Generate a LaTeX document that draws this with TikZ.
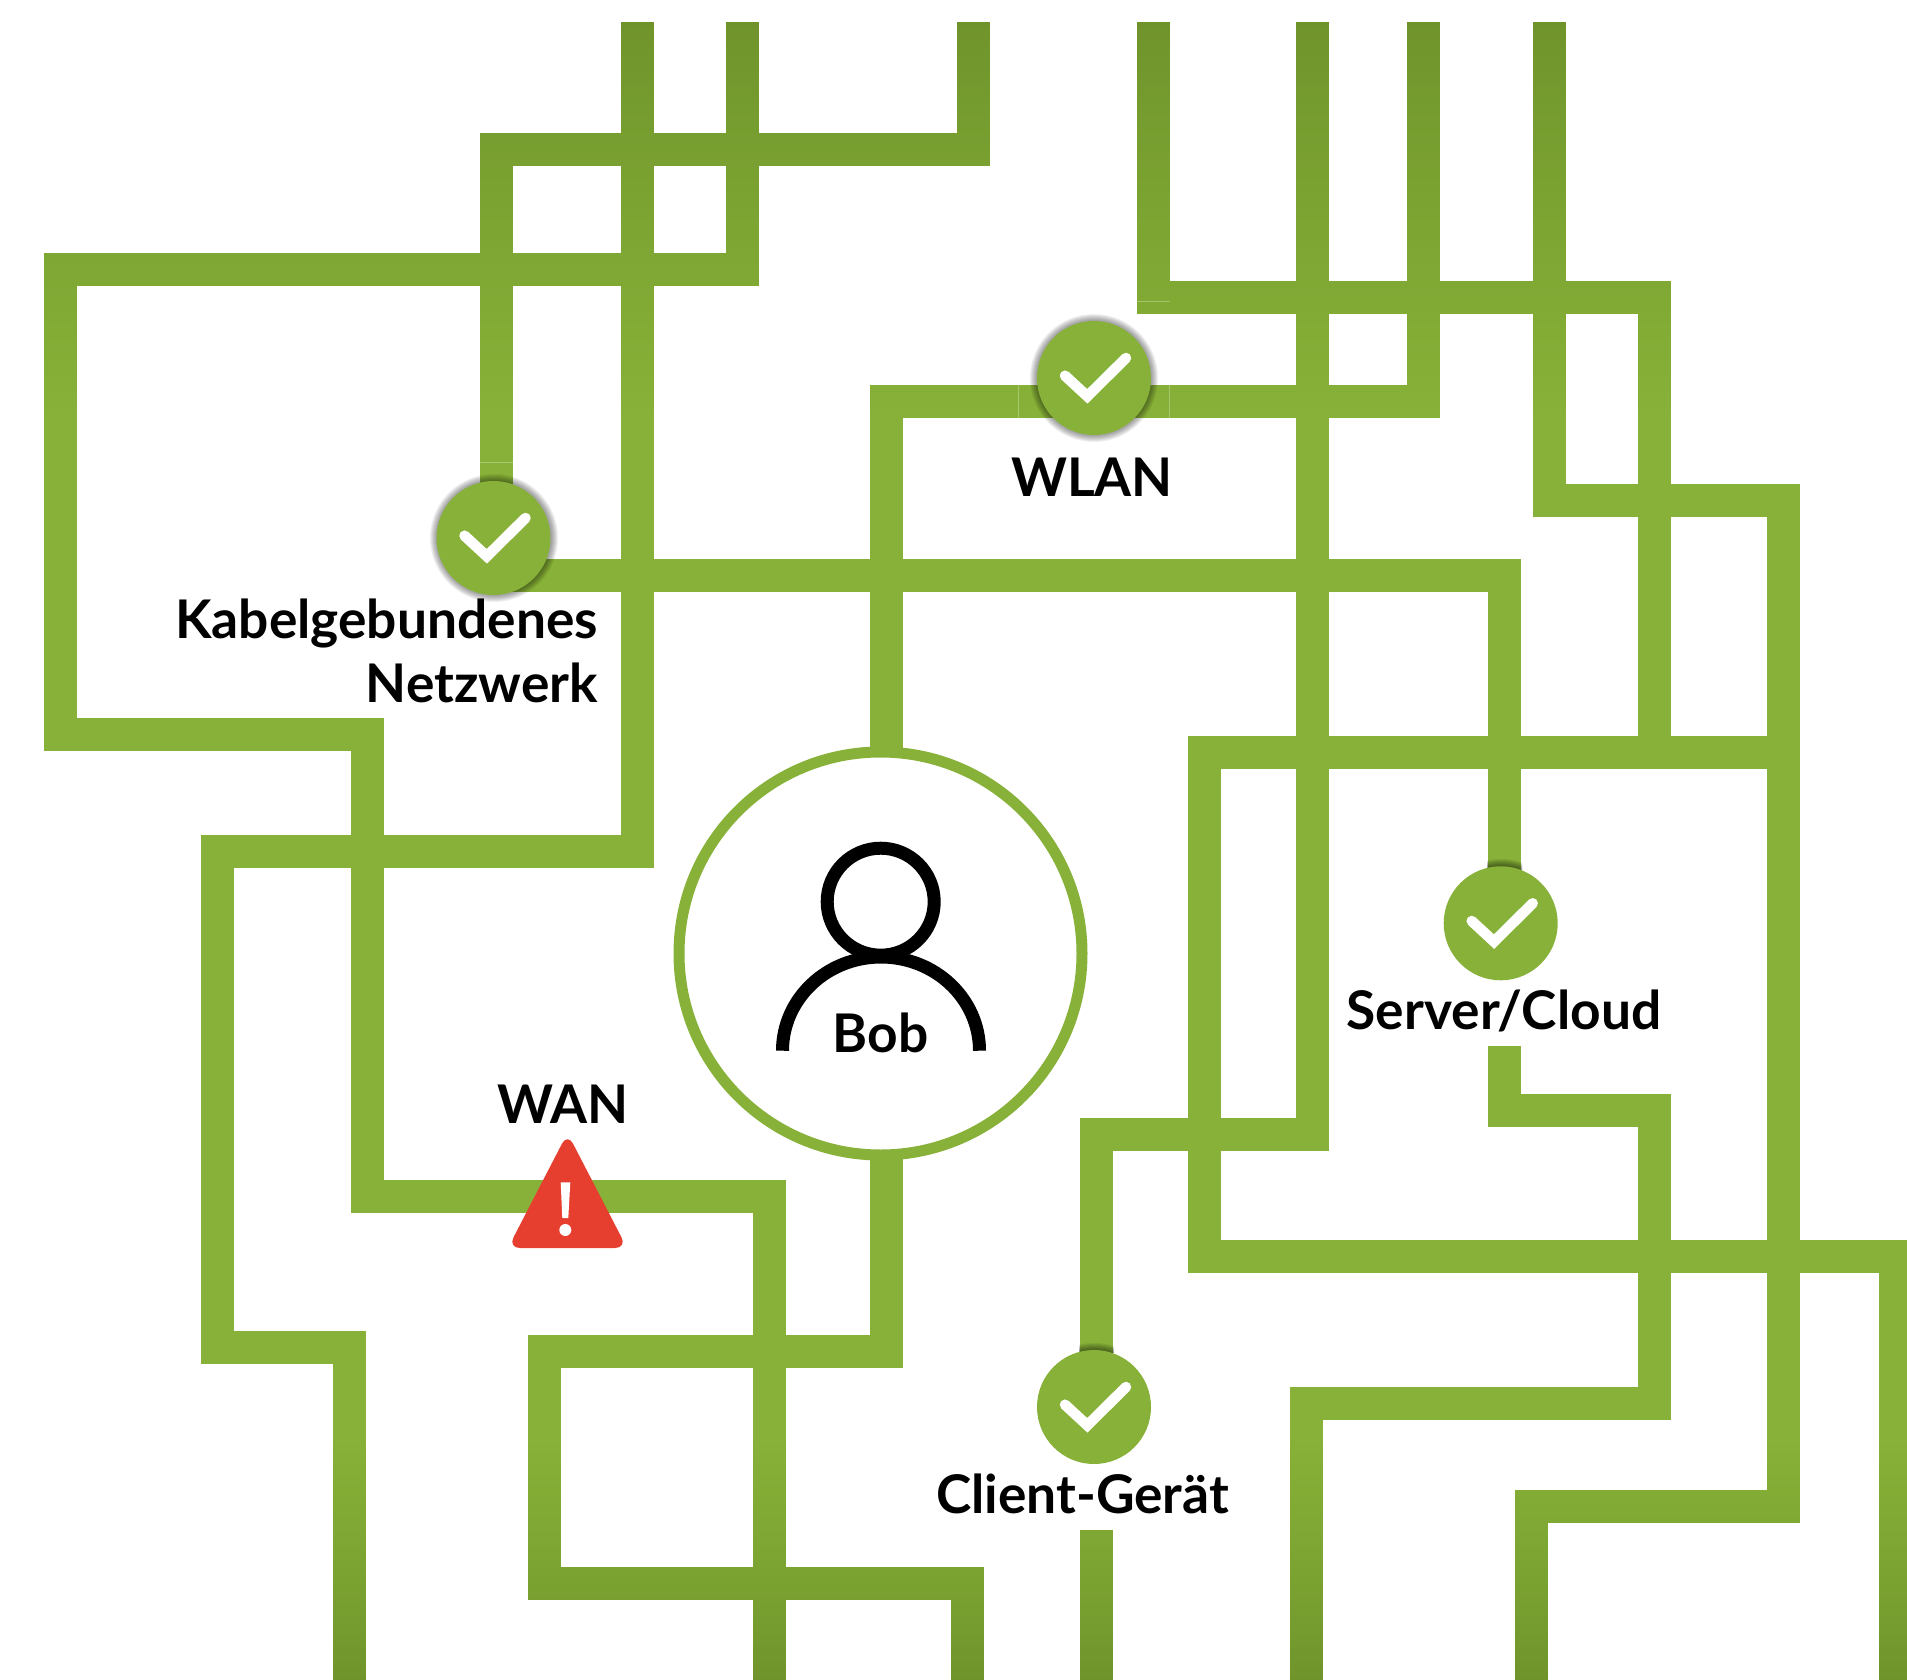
\documentclass[tikz,border=0pt]{standalone}
\usepackage{fontspec}
\setmainfont{Lato}
\usetikzlibrary{calc}
\definecolor{wiregreen}{HTML}{87B138}
\definecolor{warnred}{HTML}{E63E2F}
\definecolor{seamgreen}{HTML}{A9C76F}
\definecolor{burntone}{rgb}{.832,.722,.938}
\tikzset{
  wire/.style={draw=wiregreen,line width=33pt,line cap=butt,line join=miter,miter limit=10},
  seam/.style={draw=seamgreen,line width=1pt},
  statuscircle/.style={circle,fill=wiregreen,inner sep=0pt,minimum size=114pt},
  tick/.style={draw=white,line width=10.5pt,line cap=round,line join=miter},
  label/.style={font=\fontsize{53.3}{53.3}\selectfont\bfseries,text=black,inner sep=0pt,anchor=base},
  bobring/.style={circle,draw=wiregreen,line width=11pt,fill=white,inner sep=0pt,minimum size=403pt},
  persona/.style={draw=black,line width=13pt,line cap=butt},
}
\newcommand{\haloring}[2]{% centre, strength
  \foreach \rr in {64,63,62,61,60,59,58}{\fill[black,opacity=#2] (#1) circle[radius=\rr pt];}}
\newcommand{\ticksign}[1]{%
  \draw[tick] ($(#1)+(-29,-2.3)$) -- ($(#1)+(-6.7,18.3)$) -- ($(#1)+(32,-20)$);}
\begin{document}
\begin{tikzpicture}[x=1pt,y=-1pt]
\useasboundingbox (0,0) rectangle (1907,1680);
\fill[white] (0,0) rectangle (1907,1680);
% free ends of the lines
\coordinate (tA) at (973.5,22);
\coordinate (tB) at (742.7,22);
\coordinate (tC) at (637.6,22);
\coordinate (tD) at (1423.5,22);
\coordinate (tE) at (1153.5,22);
\coordinate (tF) at (1549.5,22);
\coordinate (tG) at (1312,22);
\coordinate (bB) at (769,1680);
\coordinate (bC) at (349.5,1680);
\coordinate (bE) at (1895.5,1680);
\coordinate (bF) at (1531.5,1680);
\coordinate (bI) at (1306.5,1680);
\coordinate (bK) at (967.5,1680);
\coordinate (bG) at (1096.5,1680);
\coordinate (sG) at (1096.5,1530);
\coordinate (sI) at (1504.5,1046);
% wires
\draw[wire] (tA) -- (973.5,150) -- (496.5,150) -- (496.5,510);
\draw[wire] (tB) -- (742.7,270) -- (60,270) -- (60,734) -- (367.5,734) -- (367.5,1196.5) -- (769,1196.5) -- (bB);
\draw[wire] (tC) -- (637.6,851.5) -- (217.5,851.5) -- (217.5,1347.5) -- (349.5,1347.5) -- (bC);
\draw[wire] (886.6,770) -- (886.6,401.5) -- (1423.5,401.5) -- (tD);
\draw[wire] (tE) -- (1153.5,297.5) -- (1654,297.5) -- (1654,752) -- (1204,752) -- (1204,1256) -- (1895.5,1256) -- (bE);
\draw[wire] (1654,752.7) -- (1783.5,752.7);
\draw[wire] (tF) -- (1549.5,500) -- (1783.5,500) -- (1783.5,1506.5) -- (1531.5,1506.5) -- (bF);
\draw[wire] (tG) -- (1312,1134.5) -- (1096.5,1134.5) -- (1096.5,1380);
\draw[wire] (sG) -- (bG);
\draw[wire] (500,575) -- (1504.5,575) -- (1504.5,900);
\draw[wire] (sI) -- (1504.5,1110.5) -- (1654,1110.5) -- (1654,1403.5) -- (1306.5,1403.5) -- (bI);
\draw[wire] (886.6,1130) -- (886.6,1351) -- (544.5,1351) -- (544.5,1583.5) -- (967.5,1583.5) -- (bK);
% seams
\draw[seam] (1137,302) -- (1170,302);
\draw[seam] (1018,385) -- (1018,418);
\draw[seam] (1169,385) -- (1169,418);
\draw[seam] (480,462) -- (513,462);
% darker ends of the lines, top and bottom (white stays white under colour burn)
\begin{scope}[blend mode=color burn]
  \shade[top color=burntone,bottom color=white,draw=none] (0,22) rectangle (1907,430);
  \shade[top color=white,bottom color=burntone,draw=none] (0,1430) rectangle (1907,1680);
\end{scope}
% halos
\haloring{494,538}{0.06}
\haloring{1094,378}{0.06}
\begin{scope}
  \clip (1487,830) rectangle (1522,870);
  \haloring{1501,923}{0.07}
\end{scope}
\begin{scope}
  \clip (1079,1330) rectangle (1114,1352);
  \haloring{1094,1407}{0.07}
\end{scope}
% status circles
\node[statuscircle] (kabel) at (493.5,538) {};
\node[statuscircle] (wlan) at (1094,378) {};
\node[statuscircle] (server) at (1500.7,923.3) {};
\node[statuscircle] (client) at (1094,1407) {};
\ticksign{kabel}
\ticksign{wlan}
\ticksign{server}
\ticksign{client}
% Bob
\node[bobring] (bob) at (880.5,953.5) {};
\node[persona,circle,inner sep=0pt,minimum size=107pt] (head) at (880.7,901.7) {};
\draw[persona] (782.5,1050.7) .. controls (782.5,999) and (826.6,957) .. (881,957) .. controls (935.4,957) and (979.5,999) .. (979.5,1050.7);
\node[label,font=\fontsize{53.3}{53.3}\selectfont\bfseries] (boblabel) at (880.5,1052) {Bob};
% warning sign
\fill[warnred,rounded corners=12pt] (567.5,1133) -- (627,1248) -- (508,1248) -- cycle;
\fill[white] (560.7,1182.3) -- (570.3,1182.3) -- (568.3,1218) -- (562.3,1218) -- cycle;
\fill[white] (565.3,1230) circle[radius=6pt];
% labels
\node[label] (wlantext) at (1092,496) {WLAN};
\node[label,anchor=base east] (kabeltext1) at (598,638) {Kabelgebundenes};
\node[label,anchor=base east] (kabeltext2) at (598,702) {Netzwerk};
\node[label] (servertext) at (1504,1029) {Server/Cloud};
\node[label] (clienttext) at (1082.5,1513) {Client-Gerät};
\node[label] (wantext) at (563,1123) {WAN};
\end{tikzpicture}
\end{document}
